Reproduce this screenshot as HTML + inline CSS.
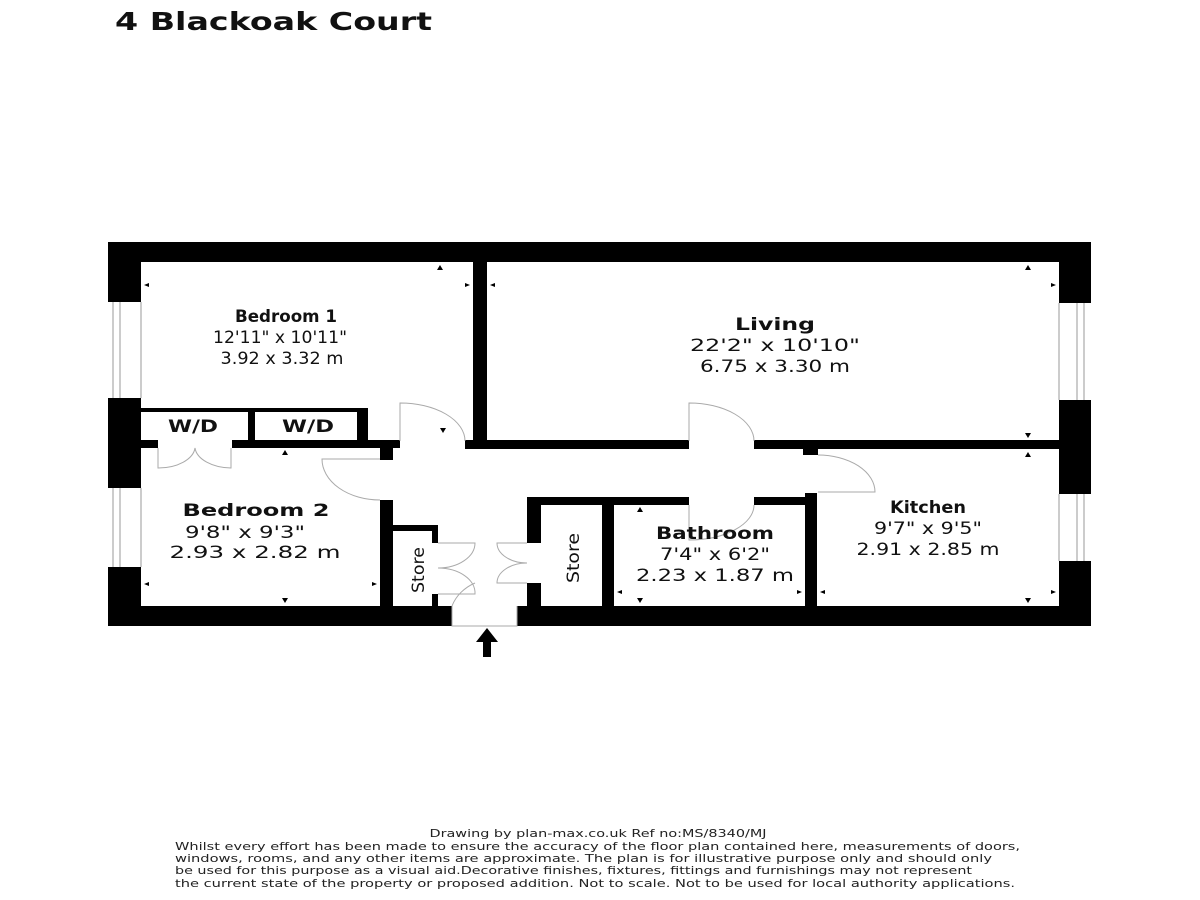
<!DOCTYPE html>
<html><head><meta charset="utf-8"><style>
html,body{margin:0;padding:0;background:#fff;}
svg{display:block}
text{font-family:"DejaVu Sans","Liberation Sans",sans-serif;fill:#111}
.n{font-weight:bold;font-size:17px}
.d{font-size:17px}
.f{font-size:10.5px;fill:#222}
</style></head><body>
<svg width="1200" height="900" viewBox="0 0 1200 900" xmlns="http://www.w3.org/2000/svg">
<rect width="1200" height="900" fill="#fff"/>
<text x="115" y="30" font-size="25" font-weight="bold" textLength="317" lengthAdjust="spacingAndGlyphs">4 Blackoak Court</text>

<g fill="#000">
<rect x="108" y="242" width="983" height="20"/>
<rect x="108" y="606" width="344" height="20"/>
<rect x="517" y="606" width="574" height="20"/>
<rect x="108" y="242" width="33" height="60"/>
<rect x="108" y="398" width="33" height="90"/>
<rect x="108" y="567" width="33" height="59"/>
<rect x="1059" y="242" width="32" height="61"/>
<rect x="1059" y="400" width="32" height="94"/>
<rect x="1059" y="561" width="32" height="65"/>
<rect x="473" y="262" width="14" height="179"/>
<rect x="465" y="440" width="224" height="9"/>
<rect x="754" y="440" width="305" height="9"/>
<rect x="803" y="449" width="15" height="6"/>
<rect x="141" y="408" width="216" height="4"/>
<rect x="357" y="408" width="11" height="33"/>
<rect x="248" y="408" width="7" height="40"/>
<rect x="141" y="440" width="17" height="8"/>
<rect x="232" y="440" width="168" height="8"/>
<rect x="380" y="440" width="13" height="20"/>
<rect x="380" y="500" width="13" height="106"/>
<rect x="393" y="525" width="45" height="6"/>
<rect x="432" y="525" width="6" height="18"/>
<rect x="432" y="594" width="6" height="12"/>
<rect x="527" y="497" width="14" height="46"/>
<rect x="527" y="583" width="14" height="23"/>
<rect x="527" y="497" width="162" height="8"/>
<rect x="754" y="497" width="63" height="8"/>
<rect x="602" y="505" width="12" height="101"/>
<rect x="805" y="493" width="12" height="113"/>
</g>

<g stroke="#999" stroke-width="1" fill="none">
<line x1="113" y1="302" x2="113" y2="398"/><line x1="120" y1="302" x2="120" y2="398"/><line x1="141" y1="302" x2="141" y2="398"/>
<line x1="113" y1="488" x2="113" y2="567"/><line x1="120" y1="488" x2="120" y2="567"/><line x1="141" y1="488" x2="141" y2="567"/>
<line x1="1059" y1="303" x2="1059" y2="400"/><line x1="1077" y1="303" x2="1077" y2="400"/><line x1="1084" y1="303" x2="1084" y2="400"/>
<line x1="1059" y1="494" x2="1059" y2="561"/><line x1="1077" y1="494" x2="1077" y2="561"/><line x1="1084" y1="494" x2="1084" y2="561"/>
</g>

<g stroke="#aaa" stroke-width="1" fill="none">
<path d="M400 441 L400 403 A65 38 0 0 1 465 441"/>
<path d="M380 459 L322 459 A58 41 0 0 0 380 500"/>
<path d="M158 448 L158 468 A37 22 0 0 0 195 448 A37 22 0 0 0 231 468 L231 448"/>
<path d="M689 441 L689 403 A65 38 0 0 1 754 441"/>
<path d="M689 505 L689 540 A65 35 0 0 0 754 505"/>
<path d="M818 455 A57 37 0 0 1 875 492 L818 492"/>
<path d="M438 543 L475 543 A37 25 0 0 1 438 568 A37 25 0 0 1 475 594 L438 594"/>
<path d="M527 543 L497 543 A30 20 0 0 0 527 563 A30 20 0 0 0 497 583 L527 583"/>
<path d="M452 606 L452 626 L517 626 L517 606"/>
<path d="M452 606 A45 40 0 0 1 475 583"/>
</g>

<path d="M487 628 L498 642 L491 642 L491 657 L483 657 L483 642 L476 642 Z" fill="#000"/>

<g fill="#000">
<path d="M440 265 l3 5 l-6 0 z"/><path d="M144 285 l5 -2 l0 4 z"/><path d="M470 285 l-5 -2 l0 4 z"/>
<path d="M490 285 l5 -2 l0 4 z"/><path d="M1056 285 l-5 -2 l0 4 z"/><path d="M1028 265 l3 5 l-6 0 z"/>
<path d="M1028 438 l3 -5 l-6 0 z"/><path d="M1028 452 l3 5 l-6 0 z"/>
<path d="M443 433 l3 -5 l-6 0 z"/><path d="M285 450 l3 5 l-6 0 z"/>
<path d="M144 584 l5 -2 l0 4 z"/><path d="M377 584 l-5 -2 l0 4 z"/><path d="M285 603 l3 -5 l-6 0 z"/>
<path d="M640 507 l3 5 l-6 0 z"/><path d="M640 603 l3 -5 l-6 0 z"/><path d="M617 592 l5 -2 l0 4 z"/><path d="M802 592 l-5 -2 l0 4 z"/>
<path d="M820 592 l5 -2 l0 4 z"/><path d="M1056 592 l-5 -2 l0 4 z"/><path d="M1028 603 l3 -5 l-6 0 z"/>
</g>

<g text-anchor="middle">
<text class="n" x="286" y="322" textLength="102" lengthAdjust="spacingAndGlyphs">Bedroom 1</text>
<text class="d" x="280" y="343" textLength="134" lengthAdjust="spacingAndGlyphs">12'11" x 10'11"</text>
<text class="d" x="282" y="364" textLength="123" lengthAdjust="spacingAndGlyphs">3.92 x 3.32 m</text>

<text class="n" x="775" y="330" textLength="80" lengthAdjust="spacingAndGlyphs">Living</text>
<text class="d" x="775" y="351" textLength="170" lengthAdjust="spacingAndGlyphs">22'2" x 10'10"</text>
<text class="d" x="775" y="372" textLength="150" lengthAdjust="spacingAndGlyphs">6.75 x 3.30 m</text>

<text class="n" x="256" y="516" textLength="147" lengthAdjust="spacingAndGlyphs">Bedroom 2</text>
<text class="d" x="245" y="538" textLength="120" lengthAdjust="spacingAndGlyphs">9'8" x 9'3"</text>
<text class="d" x="255" y="558" textLength="171" lengthAdjust="spacingAndGlyphs">2.93 x 2.82 m</text>

<text class="n" x="715" y="539" textLength="118" lengthAdjust="spacingAndGlyphs">Bathroom</text>
<text class="d" x="715" y="560" textLength="110" lengthAdjust="spacingAndGlyphs">7'4" x 6'2"</text>
<text class="d" x="715" y="581" textLength="158" lengthAdjust="spacingAndGlyphs">2.23 x 1.87 m</text>

<text class="n" x="928" y="513" textLength="76" lengthAdjust="spacingAndGlyphs">Kitchen</text>
<text class="d" x="928" y="534" textLength="108" lengthAdjust="spacingAndGlyphs">9'7" x 9'5"</text>
<text class="d" x="928" y="555" textLength="143" lengthAdjust="spacingAndGlyphs">2.91 x 2.85 m</text>

<text class="n" x="193" y="432" textLength="50" lengthAdjust="spacingAndGlyphs">W/D</text>
<text class="n" x="308" y="432" textLength="52" lengthAdjust="spacingAndGlyphs">W/D</text>
<text class="d" transform="translate(424 570) rotate(-90)" x="0" y="0" textLength="46" lengthAdjust="spacingAndGlyphs">Store</text>
<text class="d" transform="translate(579 558) rotate(-90)" x="0" y="0" textLength="50" lengthAdjust="spacingAndGlyphs">Store</text>

<text class="f" x="598" y="837" textLength="337" lengthAdjust="spacingAndGlyphs">Drawing by plan-max.co.uk Ref no:MS/8340/MJ</text>
</g>
<g>
<text class="f" x="175" y="850" textLength="845" lengthAdjust="spacingAndGlyphs">Whilst every effort has been made to ensure the accuracy of the floor plan contained here, measurements of doors,</text>
<text class="f" x="175" y="862" textLength="817" lengthAdjust="spacingAndGlyphs">windows, rooms, and any other items  are approximate. The plan is for illustrative purpose only and should only</text>
<text class="f" x="175" y="874" textLength="797" lengthAdjust="spacingAndGlyphs">be used for this  purpose as a visual aid.Decorative finishes, fixtures, fittings and furnishings may not represent</text>
<text class="f" x="175" y="887" textLength="840" lengthAdjust="spacingAndGlyphs">the current state of the property or proposed addition. Not to scale. Not to be used for local authority applications.</text>
</g>
</svg>
</body></html>
